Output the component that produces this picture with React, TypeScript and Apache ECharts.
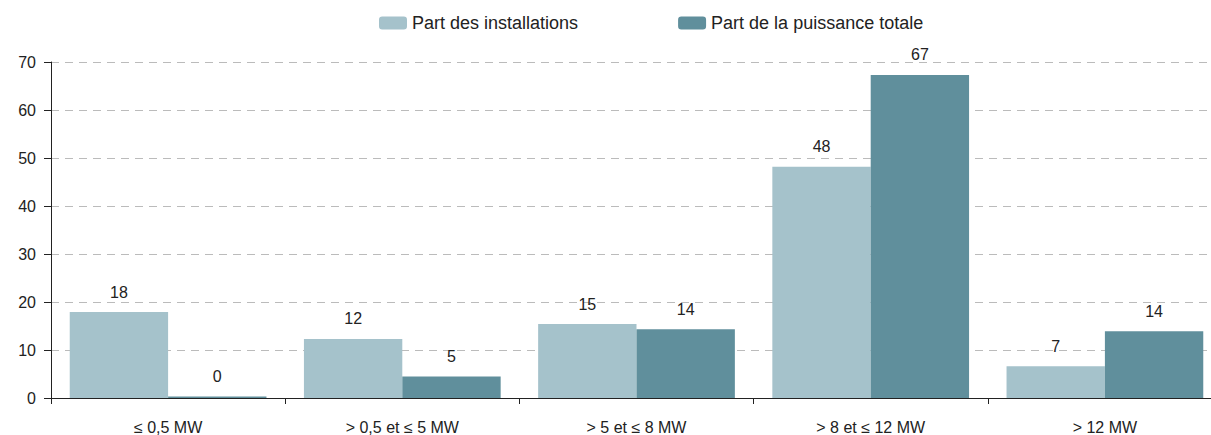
import React, { useEffect, useRef } from "react";
import * as echarts from "echarts";

const categories = ["≤ 0,5 MW", "> 0,5 et ≤ 5 MW", "> 5 et ≤ 8 MW", "> 8 et ≤ 12 MW", "> 12 MW"];
const partInstallations = [17.9, 12.3, 15.4, 48.2, 6.6];
const partPuissance = [0.3, 4.5, 14.3, 67.3, 13.9];
const seriesNames = ["Part des installations", "Part de la puissance totale"];
const colors = ["#a5c2cb", "#608f9c"];

const FONT = "'Liberation Sans', Arial, Helvetica, sans-serif";

export default function App() {
  const ref = useRef<HTMLDivElement>(null);
  useEffect(() => {
    if (!ref.current) return;
    const chart = echarts.init(ref.current, null, { renderer: "svg" });
    const labelCfg = {
      show: true,
      position: "top" as const,
      distance: 12,
      fontSize: 16,
      fontFamily: FONT,
      color: "#222",
      formatter: (p: any) => String(Math.round(p.value)),
    };
    chart.setOption({
      animation: false,
      textStyle: { fontFamily: FONT },
      legend: {
        left: 374,
        top: 9,
        itemWidth: 28,
        itemHeight: 13,
        itemGap: 100,
        textStyle: { fontSize: 18, color: "#222", fontFamily: FONT },
        data: seriesNames,
      },
      grid: { left: 51, top: 62, width: 1171, bottom: 37, containLabel: false },
      xAxis: {
        type: "category",
        data: categories,
        axisLine: { lineStyle: { color: "#222", width: 1 } },
        axisTick: { show: true, length: 6, lineStyle: { color: "#222" } },
        axisLabel: { fontSize: 16, color: "#222", margin: 21, fontFamily: FONT, interval: 0 },
      },
      yAxis: {
        type: "value",
        min: 0,
        max: 70,
        interval: 10,
        axisLine: { show: true, lineStyle: { color: "#222", width: 1 } },
        axisTick: { show: true, length: 7, lineStyle: { color: "#222" } },
        axisLabel: { fontSize: 16, color: "#222", margin: 15, fontFamily: FONT },
        splitLine: { show: true, lineStyle: { color: "#bbbbbb", type: [8, 6], width: 1 } },
      },
      series: [
        {
          name: seriesNames[0],
          type: "bar",
          data: partInstallations,
          itemStyle: { color: colors[0] },
          barGap: "0%",
          barCategoryGap: "16%",
          label: labelCfg,
        },
        {
          name: seriesNames[1],
          type: "bar",
          data: partPuissance,
          itemStyle: { color: colors[1] },
          barGap: "0%",
          barCategoryGap: "16%",
          label: labelCfg,
        },
      ],
    });
    return () => chart.dispose();
  }, []);
  return (
    <div style={{ position: "absolute", left: 0, top: 0, width: 1211, height: 435, overflow: "hidden" }}>
      <div ref={ref} style={{ width: 1223, height: 435 }} />
    </div>
  );
}
